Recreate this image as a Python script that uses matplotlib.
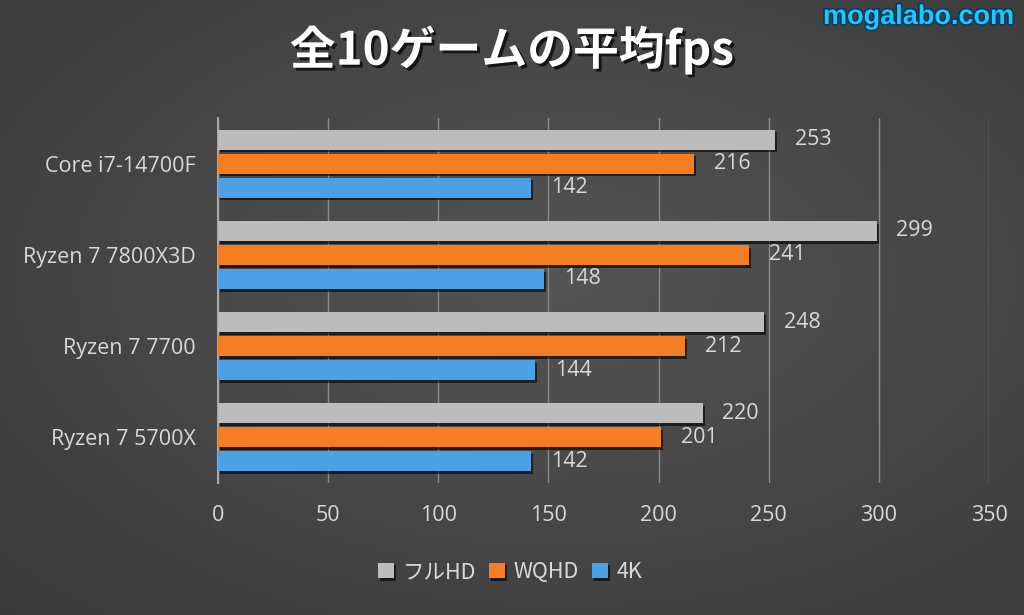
import numpy as np
import matplotlib
matplotlib.use("Agg")
import matplotlib.pyplot as plt
import matplotlib.patheffects as pe

plt.rcParams['font.family'] = ['Noto Sans CJK JP', 'DejaVu Sans']

categories = ["Core i7-14700F", "Ryzen 7 7800X3D", "Ryzen 7 7700", "Ryzen 7 5700X"]
series_names = ["フルHD", "WQHD", "4K"]
fullhd = [253, 299, 248, 220]
wqhd = [216, 241, 212, 201]
k4 = [142, 148, 144, 142]
colors = ["#bcbcbc", "#f57d22", "#4d9fe6"]
xticks = [0, 50, 100, 150, 200, 250, 300, 350]
title = "全10ゲームの平均fps"
watermark = "mogalabo.com"

W, H = 1024, 615
fig = plt.figure(figsize=(W / 100, H / 100), dpi=100)

# background gradient
bg = fig.add_axes([0, 0, 1, 1])
yy, xx = np.mgrid[0:1:200j, 0:1:340j]
r = np.sqrt(((xx - 0.55) / 0.9) ** 2 + ((yy - 0.45) / 0.9) ** 2)
val = 0.33 - 0.12 * np.clip(r, 0, 1.2)
img = np.dstack([val, val, val])
bg.imshow(img, extent=[0, 1, 0, 1], aspect='auto', interpolation='bilinear')
bg.set_axis_off()

ax = fig.add_axes([218 / W, 1 - 483 / H, (989 - 218) / W, (483 - 118) / H])
ax.patch.set_alpha(0)

num_font = ['Open Sans', 'DejaVu Sans']
y = np.arange(len(categories))
h = 0.22
step = 0.263
shadow = [pe.SimplePatchShadow(offset=(1.5, -2), shadow_rgbFace='black', alpha=0.6), pe.Normal()]
for i, (vals, col, name) in enumerate(zip([fullhd, wqhd, k4], colors, series_names)):
    pos = y + (i - 1) * step
    bars = ax.barh(pos, vals, height=h, color=col, label=name, zorder=3)
    for b in bars:
        b.set_path_effects(shadow)
    for p, v in zip(pos, vals):
        ax.text(v + 9, p, str(v), va='center', ha='left', fontsize=15.5,
                color='#d9d9d9', family=num_font)

ax.set_xlim(0, 350)
ax.set_ylim(3.5, -0.5)
ax.set_xticks(xticks)
ax.set_xticklabels([str(t) for t in xticks], color='#d9d9d9', fontsize=15.5,
                   family=num_font)
ax.set_yticks(y)
ax.set_yticklabels(categories, color='#d9d9d9', fontsize=15.5, family=num_font)
ax.tick_params(axis='both', length=0)
ax.tick_params(axis='x', pad=16)
ax.tick_params(axis='y', pad=16)
ax.grid(axis='x', color='#8a8a8a', linewidth=1, zorder=0)
for s in ['top', 'right', 'bottom']:
    ax.spines[s].set_visible(False)
ax.spines['left'].set_color('#a5a5a5')
ax.spines['left'].set_linewidth(1.5)

leg = fig.legend(loc='center', bbox_to_anchor=(510 / W, 1 - 572 / H), ncol=3,
                 frameon=False, fontsize=15.5, handlelength=0.75, handleheight=0.75,
                 handletextpad=0.4, columnspacing=0.6)
for t in leg.get_texts():
    t.set_color('#d9d9d9')

fig.text(512 / W, 1 - 50 / H, title, ha='center', va='center', fontsize=33,
         fontweight='bold', color='white',
         path_effects=[pe.withSimplePatchShadow(offset=(2, -2), shadow_rgbFace='black', alpha=0.7)])

fig.text(1014 / W, 1 - 17 / H, watermark, ha='right', va='center', fontsize=19.5,
         fontweight='bold', color='#22c7f7', family=['Liberation Sans', 'DejaVu Sans'],
         path_effects=[pe.withStroke(linewidth=2.5, foreground='#0b3a60')])

fig.savefig('out.png', dpi=100)
